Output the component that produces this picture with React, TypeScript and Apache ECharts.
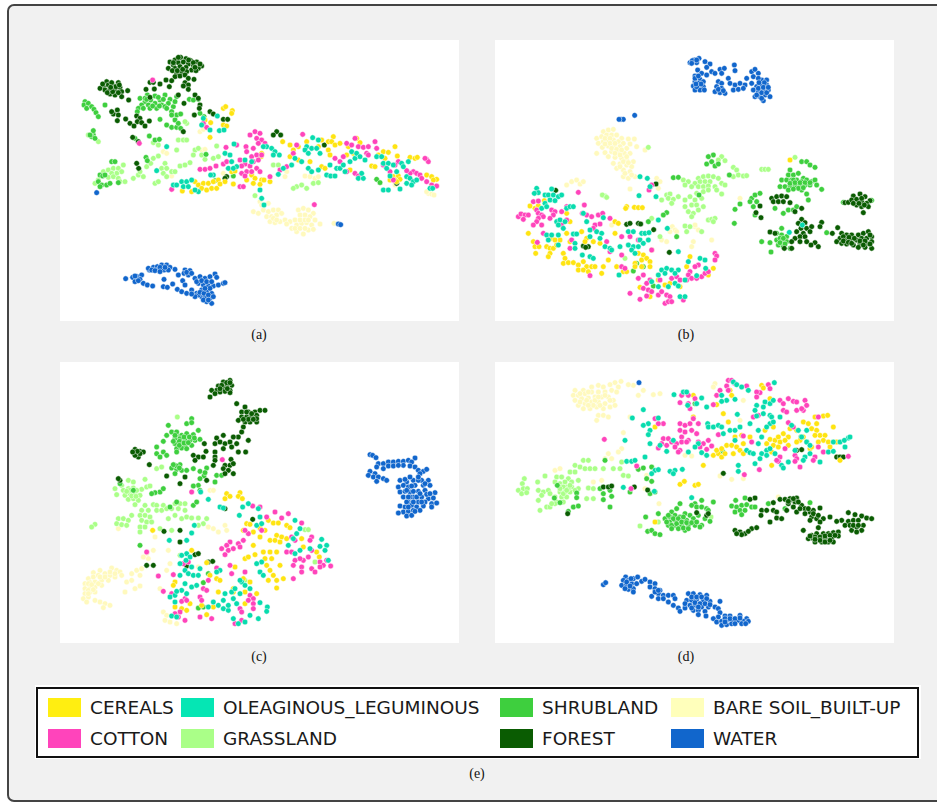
import React, { useEffect, useRef } from "react";
import * as echarts from "echarts";

const categories = ["CEREALS", "COTTON", "OLEAGINOUS_LEGUMINOUS", "GRASSLAND", "SHRUBLAND", "FOREST", "BARE SOIL_BUILT-UP", "WATER"];
const colors = ["#ffe411", "#ff44bb", "#08dcae", "#aaff88", "#3ecf3e", "#0a5c02", "#fff9bd", "#1166cc"];
const legendColors = ["#ffee11", "#ff44bb", "#05e6b4", "#aaff88", "#3ecf3e", "#0a5c02", "#ffffbb", "#1166cc"];
const captions = ["(a)", "(b)", "(c)", "(d)", "(e)"];

// Panel (a)
const aCereals = [[490,205],[497,200],[517,212],[515,220],[450,292],[490,255],[500,258],[452,248],[435,240],[405,425],[415,435],[430,430],[445,430],[460,425],[475,420],[425,445],[440,450],[455,445],[470,445],[395,455],[367,453],[480,432],[495,425],[520,432],[515,395],[525,393],[575,405],[585,415],[605,420],[600,433],[612,420],[580,430],[630,425],[603,350],[605,340],[668,305],[690,315],[700,330],[690,350],[715,360],[715,320],[740,305],[785,300],[805,305],[820,290],[815,305],[825,315],[840,310],[805,330],[810,345],[775,320],[750,365],[785,380],[795,385],[865,320],[860,345],[880,340],[890,295],[900,308],[870,390],[935,378],[945,380],[955,345],[970,335],[985,337],[1005,320],[1012,348],[975,355],[1050,352],[1065,355],[1072,352],[1000,410],[1015,408],[990,420],[1005,420],[1020,418],[1100,405],[1115,410],[1130,418],[1120,420],[560,420],[1010,425]];
const aCotton = [[570,285],[585,275],[600,280],[590,295],[605,300],[615,310],[595,310],[580,325],[558,320],[560,335],[575,350],[590,345],[605,345],[580,365],[595,360],[570,378],[555,372],[540,360],[545,378],[560,395],[545,400],[555,408],[575,395],[590,385],[600,395],[630,410],[530,315],[498,322],[490,372],[500,365],[420,388],[435,388],[450,385],[468,378],[728,283],[700,340],[710,315],[680,380],[660,390],[825,355],[840,365],[850,350],[860,310],[875,315],[885,295],[895,320],[910,322],[925,320],[945,305],[950,325],[920,340],[925,345],[1015,365],[1005,375],[990,395],[970,375],[1100,358],[1105,365],[1095,355],[1060,395],[1070,400],[1080,405],[1050,400],[1040,392],[1085,415],[1100,425],[1115,435],[1130,438],[885,400],[895,408],[1000,420],[860,395],[540,440],[550,440],[335,448],[763,494],[238,310],[278,120],[440,262],[430,250]];
const aOlea = [[340,435],[350,435],[365,425],[380,425],[395,420],[370,440],[385,440],[415,455],[405,450],[430,235],[450,270],[425,255],[478,272],[492,270],[472,228],[495,340],[522,312],[510,345],[515,365],[530,380],[505,385],[520,385],[555,360],[575,365],[620,320],[635,325],[645,335],[658,345],[640,345],[610,320],[600,450],[605,475],[612,495],[655,403],[670,385],[695,375],[705,355],[725,365],[740,320],[755,325],[770,325],[735,330],[745,340],[758,293],[775,300],[780,340],[745,385],[755,395],[775,390],[800,405],[812,408],[825,408],[810,375],[830,385],[840,385],[850,375],[855,395],[870,365],[885,355],[875,335],[890,340],[900,350],[915,360],[895,415],[910,415],[905,400],[950,350],[965,350],[970,370],[985,370],[1000,375],[980,385],[1025,370],[1030,380],[1045,365],[1010,395],[990,408],[1040,410],[1050,415],[1060,425],[1040,430],[1055,435],[1070,420],[970,450],[985,450],[1020,447],[1110,445],[1118,445],[460,405],[452,405],[290,392],[320,320]];
const aGrass = [[105,430],[115,420],[130,395],[145,390],[160,385],[175,385],[185,395],[170,400],[155,400],[145,412],[160,410],[175,415],[190,375],[180,425],[195,425],[220,415],[235,405],[250,410],[240,395],[260,380],[272,370],[280,355],[295,348],[315,370],[305,385],[320,385],[335,395],[345,395],[310,400],[320,410],[285,430],[295,425],[280,308],[295,315],[355,300],[370,300],[380,300],[350,330],[360,378],[375,375],[390,368],[405,330],[415,325],[400,345],[425,345],[435,358],[460,355],[475,350],[495,340],[470,318],[710,440],[725,435],[740,445],[700,445],[760,430],[775,428],[640,375],[655,375],[585,467],[380,250],[115,305],[85,285],[375,245]];
const aShrub = [[75,185],[72,195],[85,190],[80,205],[95,200],[102,208],[108,218],[115,230],[135,195],[240,175],[262,165],[285,168],[315,165],[350,170],[330,178],[300,180],[272,180],[255,185],[245,195],[265,195],[285,190],[305,195],[325,190],[340,200],[235,205],[270,205],[290,205],[315,200],[335,215],[350,225],[362,222],[335,225],[345,240],[300,238],[320,255],[335,262],[350,262],[362,265],[355,250],[232,215],[420,220],[432,230],[268,288],[285,300],[298,298],[225,295],[155,365],[165,365],[258,352],[262,362],[120,405],[128,408],[135,405],[115,425],[125,435],[140,435],[150,430],[120,440],[175,428],[100,285],[95,290],[105,295],[90,285],[100,272],[415,178],[388,178],[400,180],[438,343],[465,422],[520,408],[950,418],[960,428],[255,175],[295,172],[310,178],[345,185],[278,198],[298,198],[320,205],[250,205],[260,178]];
const aForest = [[330,66],[345,60],[362,52],[378,56],[392,62],[410,66],[425,78],[340,75],[355,68],[370,66],[385,72],[400,76],[415,85],[325,85],[345,85],[360,80],[378,82],[395,90],[408,92],[350,100],[365,95],[380,95],[345,110],[360,108],[375,105],[385,115],[402,118],[335,122],[318,120],[375,128],[385,135],[370,138],[385,148],[300,132],[140,125],[130,140],[145,135],[160,138],[175,128],[120,145],[135,150],[150,148],[165,150],[180,142],[185,155],[150,162],[165,165],[185,170],[203,152],[206,180],[172,210],[160,222],[175,225],[172,242],[155,215],[197,237],[210,250],[230,228],[240,235],[232,245],[245,248],[255,258],[268,243],[222,258],[258,148],[270,172],[283,147],[270,127],[280,127],[328,140],[355,165],[372,190],[405,165],[415,175],[420,195],[418,205],[403,225],[450,215],[460,222],[490,238],[503,238],[370,275],[235,305],[236,385],[218,292],[230,370],[500,410],[495,415],[650,275],[640,285],[662,285],[793,315],[1010,430],[337,92],[352,92],[368,88],[386,60],[400,68],[355,52],[340,68],[420,72],[405,82],[128,132],[155,128],[168,140],[142,158],[158,155],[175,158],[178,135],[152,142]];
const aBare = [[600,485],[605,495],[625,490],[580,515],[595,520],[610,510],[625,515],[640,510],[655,510],[620,530],[635,530],[650,525],[665,520],[630,545],[645,548],[660,545],[675,540],[690,545],[705,540],[715,510],[730,505],[745,510],[760,520],[720,525],[735,525],[750,530],[765,540],[710,555],[725,550],[740,548],[755,555],[780,552],[695,565],[710,575],[730,582],[745,570],[760,568],[822,550],[1105,460],[1115,462],[1122,465],[1100,455],[420,275],[430,268],[425,330],[435,328],[310,335],[320,340],[335,408],[490,400],[680,395],[675,410],[735,408],[750,410],[765,415],[775,410],[1005,435],[640,535],[680,552],[720,540],[735,540],[705,565],[720,565],[735,565],[650,540],[745,540]];
const aWater = [[197,716],[218,712],[225,725],[232,710],[245,705],[240,718],[250,730],[262,735],[278,738],[268,690],[280,682],[292,680],[305,675],[320,675],[330,682],[345,688],[265,685],[295,690],[312,690],[325,690],[375,690],[390,692],[372,700],[385,705],[310,740],[322,742],[355,705],[312,718],[338,732],[352,748],[368,722],[375,735],[365,755],[380,760],[395,750],[410,760],[425,770],[440,785],[455,790],[405,715],[420,710],[435,715],[450,710],[465,702],[470,712],[415,730],[430,735],[445,738],[460,738],[475,735],[490,730],[495,728],[425,750],[440,755],[455,760],[415,765],[435,770],[450,775],[110,458],[835,552],[842,554],[225,708],[235,722],[275,690],[285,692],[300,682],[315,682],[300,695],[380,697],[395,700],[410,725],[425,722],[440,725],[455,725],[405,770],[420,757],[432,760],[445,765],[430,780],[445,780],[460,770],[450,745],[435,745],[395,762]];

// Panel (b)
const bCereals = [[100,580],[105,498],[120,505],[130,497],[148,482],[215,520],[395,500],[418,502],[430,503],[442,503],[392,505],[225,545],[215,580],[195,600],[170,595],[180,600],[155,620],[165,625],[175,625],[185,615],[165,640],[160,650],[205,640],[210,655],[205,670],[220,668],[235,668],[250,675],[265,665],[275,680],[290,680],[300,680],[250,690],[265,690],[280,695],[320,700],[325,680],[340,660],[115,605],[120,620],[132,620],[122,640],[225,605],[260,575],[275,595],[295,605],[315,610],[360,545],[370,550],[360,580],[365,680],[385,695],[395,695],[430,640],[445,645],[470,630],[440,660],[455,655],[465,665],[420,670],[420,680],[440,680],[465,680],[490,720],[510,735],[525,730],[435,742],[465,770],[555,740],[585,650],[575,680],[655,685],[885,360],[640,705],[270,605]];
const bCotton = [[70,530],[78,522],[90,525],[100,525],[85,538],[115,485],[130,483],[125,510],[130,520],[140,525],[145,530],[130,535],[125,545],[115,555],[140,555],[170,510],[180,515],[175,525],[165,535],[200,515],[215,500],[250,457],[268,495],[262,520],[275,525],[290,530],[310,525],[323,520],[345,535],[300,555],[315,552],[295,565],[190,545],[215,540],[200,555],[145,580],[127,607],[230,600],[225,625],[380,590],[405,590],[335,605],[345,635],[380,645],[430,600],[465,440],[470,435],[462,450],[470,630],[660,640],[665,648],[660,660],[610,675],[600,680],[585,695],[580,705],[575,720],[590,715],[605,715],[620,710],[630,700],[640,695],[530,715],[545,710],[555,720],[430,715],[445,705],[465,720],[455,730],[445,745],[460,750],[435,778],[405,760],[455,768],[470,755],[490,765],[500,755],[515,765],[525,770],[510,790],[520,785],[530,785],[495,720],[565,780],[285,707],[380,680],[390,685]];
const bOlea = [[125,445],[130,458],[118,460],[150,465],[170,447],[160,465],[175,465],[190,470],[200,465],[165,480],[180,482],[150,490],[140,505],[155,500],[215,505],[225,500],[235,500],[185,545],[195,540],[210,545],[190,555],[205,565],[155,585],[170,585],[190,585],[160,600],[190,615],[235,582],[245,582],[240,610],[262,645],[240,625],[265,520],[275,545],[325,533],[285,570],[305,575],[320,580],[315,595],[285,590],[285,650],[295,655],[330,620],[345,625],[350,630],[375,620],[400,575],[415,575],[440,580],[450,580],[462,578],[400,615],[415,620],[430,620],[410,630],[420,640],[435,600],[445,610],[460,600],[435,410],[457,415],[432,467],[465,440],[483,470],[490,540],[517,565],[500,690],[515,685],[490,705],[510,700],[530,690],[550,690],[540,700],[550,635],[580,665],[615,655],[630,660],[490,740],[520,740],[540,730],[550,738],[570,720],[555,770],[570,770],[372,705],[605,707],[632,685],[883,577],[922,555],[470,725]];
const bGrass = [[680,350],[670,360],[690,362],[715,382],[725,390],[715,410],[730,405],[745,408],[755,407],[800,388],[810,388],[820,388],[900,352],[460,322],[565,420],[580,425],[610,415],[625,410],[640,408],[655,410],[670,415],[600,430],[615,425],[630,425],[645,425],[570,435],[590,440],[610,440],[625,440],[640,438],[680,430],[690,435],[660,440],[515,465],[525,462],[500,480],[520,475],[535,478],[550,470],[530,490],[605,460],[625,455],[640,450],[680,462],[665,450],[570,480],[585,470],[600,480],[620,475],[570,500],[590,495],[605,495],[625,500],[580,515],[595,520],[610,510],[590,530],[640,540],[650,538],[660,535],[655,545],[570,558],[585,560],[575,575],[620,575],[330,468],[322,465],[335,472],[470,535],[495,590],[390,655]];
const bShrub = [[655,345],[640,350],[635,372],[650,365],[660,378],[670,372],[703,405],[535,413],[550,412],[545,590],[770,475],[780,465],[795,460],[765,485],[785,485],[720,508],[735,492],[718,550],[775,500],[780,525],[920,365],[935,365],[945,375],[960,382],[885,390],[880,405],[895,405],[910,400],[925,415],[860,420],[875,420],[890,420],[905,420],[920,425],[935,420],[950,425],[960,420],[855,440],[870,440],[885,437],[900,435],[915,435],[930,435],[945,435],[965,435],[980,448],[880,450],[920,450],[935,462],[840,505],[865,520],[880,510],[895,510],[905,500],[940,480],[800,605],[825,608],[828,636],[860,565],[845,580],[860,585],[875,590],[845,600],[860,605],[875,605],[850,615],[865,620],[885,625],[995,578],[1045,487],[1130,481],[612,465],[515,518],[505,525],[460,545],[445,680],[415,693],[475,738],[425,670],[895,420],[885,430],[900,428],[915,428],[930,428],[945,428],[910,445],[895,447],[925,443],[855,595],[865,595],[855,608],[870,612]];
const bForest = [[182,451],[483,432],[830,475],[845,470],[860,468],[875,470],[835,485],[850,485],[865,485],[885,488],[795,498],[783,518],[798,533],[920,505],[900,515],[1050,488],[1060,487],[1075,468],[1095,462],[1110,470],[1125,482],[1070,480],[1085,478],[1100,485],[1115,490],[1085,495],[1100,500],[1120,500],[1105,518],[1028,563],[1012,580],[920,538],[930,548],[910,550],[918,565],[935,565],[950,560],[980,547],[975,560],[825,576],[840,580],[905,575],[925,580],[945,575],[900,595],[915,590],[930,590],[890,605],[915,605],[935,605],[960,608],[970,620],[868,625],[890,625],[948,615],[1040,580],[1055,585],[1070,585],[1090,585],[1105,580],[1120,575],[1130,590],[1035,595],[1050,600],[1065,600],[1085,600],[1100,595],[1115,595],[1025,605],[1040,610],[1055,612],[1075,615],[1095,612],[1115,610],[1130,605],[1090,622],[1110,622],[1130,625],[395,553],[405,550],[430,550],[437,552],[265,618],[280,620],[272,622],[476,569],[523,637],[1075,490],[1092,490],[1108,495],[1100,475],[1045,590],[1062,592],[1078,595],[1095,603],[1110,603],[1125,585],[1125,612],[1045,603],[1060,607],[1070,610],[1105,615]];
const bBare = [[325,275],[340,270],[355,268],[305,295],[320,290],[335,285],[350,285],[365,285],[380,295],[400,297],[418,297],[310,310],[325,305],[340,300],[355,300],[370,305],[385,310],[405,312],[322,322],[340,318],[358,318],[375,320],[395,325],[425,320],[305,340],[330,338],[350,335],[370,335],[388,340],[405,340],[340,350],[360,352],[380,355],[395,360],[415,365],[355,370],[375,372],[395,375],[410,380],[365,385],[385,390],[405,395],[385,410],[400,415],[420,410],[405,447],[215,435],[230,425],[245,420],[255,432],[265,425],[485,415],[495,425],[490,445],[532,560],[540,570],[525,575],[545,575],[600,560],[610,570],[595,605],[590,620],[650,600],[735,475],[500,600],[515,605],[350,555],[600,555],[450,330],[330,295],[345,295],[345,310],[360,310],[330,312],[350,325],[365,328],[380,330],[360,340],[375,345],[395,350],[385,365],[400,368],[375,380],[390,400],[410,405]];
const bWater = [[585,68],[598,60],[612,55],[605,68],[630,65],[645,72],[635,82],[650,95],[660,100],[608,90],[620,100],[635,105],[600,108],[615,118],[600,125],[610,130],[625,125],[595,138],[610,140],[625,140],[600,150],[615,150],[628,150],[675,88],[688,85],[680,100],[718,75],[720,92],[700,115],[670,125],[680,130],[705,130],[665,140],[680,145],[660,155],[675,158],[690,160],[720,135],[735,130],[750,135],[715,150],[730,148],[745,145],[755,115],[770,95],[780,88],[790,100],[775,110],[770,130],[785,140],[800,120],[815,120],[800,135],[815,135],[775,150],[790,155],[805,150],[820,150],[780,170],[795,170],[810,165],[825,170],[805,182],[378,238],[385,238],[372,238],[419,226],[592,62],[605,60],[590,70],[600,115],[610,108],[605,140],[618,132],[603,132],[790,115],[808,128],[792,128],[785,165],[800,158],[815,158],[790,145],[805,142],[820,142],[670,148],[685,152],[800,175]];

// Panel (c)
const cCereals = [[500,395],[495,410],[510,403],[540,392],[535,403],[547,410],[560,485],[570,487],[550,505],[580,510],[600,525],[625,475],[640,483],[655,483],[680,490],[690,497],[650,520],[665,525],[630,535],[645,535],[660,540],[680,530],[725,530],[730,555],[555,590],[565,585],[585,578],[610,570],[630,570],[650,570],[615,590],[635,590],[660,610],[620,610],[630,625],[640,640],[625,655],[650,655],[670,650],[650,678],[770,570],[778,585],[278,505],[395,565],[440,602],[470,650],[480,655],[525,615],[345,660],[340,670],[345,735],[365,740],[390,725],[380,745],[425,730],[460,735],[440,758],[520,680],[550,650],[570,660],[555,725],[590,695],[555,690],[520,690],[475,690],[450,640],[600,498],[615,505],[580,550]];
const cCotton = [[487,293],[395,390],[578,432],[600,435],[620,465],[645,450],[665,468],[685,455],[725,483],[510,540],[500,550],[535,545],[550,535],[485,560],[505,565],[520,560],[495,578],[540,555],[565,515],[555,505],[605,505],[695,525],[705,535],[755,525],[750,535],[755,565],[745,585],[730,595],[720,590],[680,570],[695,570],[705,595],[700,610],[725,615],[725,630],[700,650],[755,620],[765,630],[780,600],[790,610],[780,615],[812,612],[800,595],[260,570],[295,642],[340,638],[310,688],[370,605],[385,600],[335,695],[375,710],[365,718],[380,715],[420,705],[425,715],[430,680],[440,685],[470,618],[510,610],[515,635],[555,630],[570,700],[580,710],[565,715],[580,725],[580,740],[540,740],[545,750],[360,750],[345,755],[355,765],[375,775],[420,765],[455,770],[525,785],[545,775],[445,655]];
const cOlea = [[422,390],[445,412],[480,435],[490,438],[403,490],[395,513],[328,535],[380,535],[538,460],[548,435],[565,425],[595,440],[600,465],[590,490],[605,485],[705,475],[720,500],[710,515],[700,530],[685,550],[720,565],[705,575],[750,560],[785,532],[780,553],[800,550],[795,565],[805,595],[605,600],[590,605],[600,630],[610,640],[380,575],[390,585],[365,580],[378,595],[360,605],[375,625],[395,615],[385,635],[400,640],[415,640],[420,620],[395,675],[410,670],[360,640],[375,665],[365,685],[380,695],[345,700],[330,705],[345,720],[350,688],[480,625],[470,630],[495,695],[490,715],[475,730],[490,740],[505,745],[520,710],[530,725],[505,730],[515,690],[525,680],[540,695],[545,660],[540,655],[555,670],[570,680],[600,722],[622,735],[620,748],[570,760],[595,770],[520,770],[535,785],[555,780],[445,735],[335,762],[350,765],[460,720]];
const cGrass = [[352,165],[290,320],[305,315],[165,380],[185,370],[205,355],[220,360],[255,352],[170,398],[190,385],[205,380],[220,378],[245,382],[260,375],[270,372],[195,400],[210,395],[225,395],[240,400],[205,412],[220,410],[235,415],[225,428],[255,430],[280,428],[290,430],[310,430],[345,425],[360,425],[375,425],[245,445],[265,445],[290,445],[305,445],[320,440],[335,440],[355,440],[375,445],[240,460],[255,460],[270,465],[215,460],[175,470],[190,470],[205,475],[170,485],[185,488],[200,490],[245,475],[260,480],[275,480],[240,495],[255,495],[240,510],[345,460],[365,470],[380,465],[395,468],[415,468],[440,470],[430,485],[415,490],[105,487],[95,495],[335,505],[300,500],[360,580],[555,655],[765,600],[735,503],[745,503],[325,470],[210,385],[215,402],[228,403],[200,388],[230,385]];
const cShrub = [[395,170],[380,185],[325,190],[395,182],[320,220],[335,210],[350,220],[365,220],[380,215],[400,218],[415,205],[345,230],[360,230],[375,235],[390,235],[405,235],[420,232],[310,238],[345,245],[360,245],[375,250],[395,250],[350,260],[365,258],[380,260],[290,255],[290,275],[310,270],[320,280],[300,285],[350,270],[345,310],[360,308],[335,318],[350,322],[365,325],[345,335],[380,325],[400,320],[420,328],[440,318],[432,342],[420,350],[435,332],[470,340],[485,340],[415,370],[400,372],[420,385],[300,390],[285,392],[310,380],[220,385],[330,435],[350,420],[400,430],[410,420],[240,550],[430,662],[445,635],[430,735],[415,738],[275,395],[465,360],[180,365],[350,210],[345,220],[358,238],[372,225],[388,225],[403,228],[358,250],[372,243],[385,242],[340,238],[350,312],[358,318],[340,308]];
const cForest = [[510,55],[490,60],[475,72],[515,70],[500,72],[490,80],[470,85],[455,85],[510,85],[495,88],[480,90],[465,95],[450,105],[510,92],[530,125],[555,135],[545,150],[565,150],[585,150],[600,145],[615,145],[545,165],[560,165],[575,165],[590,160],[535,175],[555,180],[570,180],[590,180],[550,195],[545,210],[535,225],[520,225],[565,235],[470,228],[490,220],[465,245],[480,240],[495,245],[510,240],[530,245],[515,255],[490,260],[535,270],[557,270],[465,270],[225,262],[240,268],[230,275],[250,270],[235,285],[225,280],[465,285],[513,292],[400,280],[415,285],[405,295],[438,268],[430,285],[268,308],[320,342],[375,345],[440,355],[495,310],[510,310],[520,305],[490,320],[505,325],[495,335],[520,335],[465,295],[460,310],[180,355],[175,350],[495,440],[578,472],[312,508],[360,540],[360,505],[405,578],[415,575],[445,600],[458,598],[260,610],[280,610],[380,612],[433,245],[360,365],[500,62],[510,62],[485,70],[502,80],[480,80],[560,150],[575,155],[590,170],[565,172],[550,172],[580,172],[240,275],[232,268],[218,270]];
const cBare = [[100,632],[120,625],[155,618],[170,625],[180,630],[85,650],[100,645],[115,640],[135,635],[150,640],[75,665],[90,662],[105,660],[125,655],[145,655],[165,645],[185,640],[75,680],[90,675],[105,675],[125,670],[75,695],[90,690],[105,690],[70,710],[85,705],[80,720],[105,715],[120,720],[135,725],[130,737],[150,730],[200,660],[215,655],[215,635],[230,625],[245,620],[240,640],[225,680],[240,672],[195,690],[300,680],[320,625],[330,605],[325,565],[260,575],[280,565],[265,590],[250,585],[445,495],[460,500],[475,510],[495,490],[500,505],[310,750],[320,760],[315,775],[330,780],[350,785],[175,500],[285,525],[415,615],[450,385],[460,385],[85,665],[95,668],[115,665],[85,685],[100,683],[85,695],[120,645],[135,645],[150,630],[165,635]];
const cWater = [[930,278],[938,280],[948,287],[955,305],[950,315],[970,305],[985,300],[1000,300],[1015,298],[1030,298],[1045,295],[1065,288],[1055,300],[970,320],[985,312],[1030,310],[1050,312],[1065,315],[1075,325],[1090,328],[1100,322],[1080,335],[930,328],[945,335],[925,340],[940,345],[955,345],[970,350],[980,355],[950,358],[1020,355],[1040,360],[1060,355],[1085,355],[1105,355],[1015,375],[1030,370],[1045,375],[1065,370],[1090,370],[1110,370],[1020,390],[1035,388],[1050,390],[1075,388],[1095,385],[1125,392],[1030,405],[1060,405],[1085,405],[1105,410],[1120,408],[1045,420],[1075,420],[1095,420],[1115,425],[1130,423],[1020,432],[1035,435],[1055,430],[1070,435],[1090,432],[1115,435],[1030,450],[1045,448],[1060,445],[1080,445],[1015,453],[1040,462],[1055,460],[1040,385],[1060,388],[1050,405],[1070,405],[1040,420],[1060,420],[1085,420],[1045,435],[1065,448],[1080,395],[1100,397],[1110,395],[1055,372],[1075,355],[1095,365],[1000,312],[1015,310],[1035,352],[1050,345],[1075,345],[1045,405]];

// Panel (d)
const dCereals = [[800,70],[805,78],[665,128],[595,100],[705,85],[710,100],[685,155],[700,180],[480,195],[625,310],[555,367],[568,358],[600,370],[610,367],[480,480],[655,280],[670,275],[680,285],[690,275],[665,265],[680,260],[695,250],[710,250],[725,255],[735,265],[715,275],[745,245],[765,225],[740,220],[720,225],[745,275],[825,110],[825,232],[840,235],[815,245],[835,250],[850,225],[865,215],[880,225],[855,240],[870,235],[880,250],[850,255],[885,200],[905,205],[925,180],[940,185],[960,165],[985,162],[998,160],[915,235],[905,240],[925,225],[965,185],[950,200],[965,205],[975,220],[990,220],[960,220],[985,235],[970,240],[1000,240],[1015,195],[1025,240],[1005,255],[945,260],[950,255],[830,270],[835,195],[830,310],[810,205],[1035,295],[595,165]];
const dCotton = [[700,55],[710,55],[695,72],[700,85],[755,72],[795,92],[785,90],[785,105],[820,68],[825,80],[560,100],[580,100],[555,122],[580,125],[585,140],[600,110],[655,128],[665,100],[720,65],[855,115],[865,125],[865,145],[875,150],[880,110],[895,118],[905,120],[930,115],[935,130],[925,145],[905,145],[920,140],[775,165],[790,160],[480,170],[505,185],[490,185],[555,185],[570,190],[585,185],[595,170],[610,185],[555,205],[570,210],[590,205],[605,215],[560,225],[580,235],[505,230],[520,230],[530,240],[545,245],[560,240],[575,240],[500,245],[515,250],[540,255],[555,265],[550,270],[490,258],[610,240],[625,245],[640,235],[615,255],[650,252],[635,262],[328,232],[425,312],[408,380],[745,222],[770,240],[970,165],[880,182],[895,195],[970,255],[985,270],[1060,283],[855,285],[850,298],[845,295],[870,260],[900,280],[905,290],[900,298],[960,285],[955,295],[793,323],[748,338],[915,315],[675,85],[670,218]];
const dOlea = [[715,60],[725,68],[740,75],[760,85],[838,62],[537,98],[565,90],[575,90],[620,108],[605,125],[578,130],[635,135],[680,100],[695,115],[720,112],[680,118],[785,130],[810,120],[825,125],[835,115],[805,135],[780,145],[805,155],[825,160],[785,162],[830,165],[855,165],[727,157],[445,143],[412,168],[460,185],[490,168],[445,190],[465,205],[460,218],[465,245],[495,250],[515,268],[535,235],[390,235],[610,245],[638,185],[640,195],[655,195],[670,190],[680,195],[685,215],[705,205],[720,205],[735,195],[765,185],[720,235],[755,265],[765,272],[775,275],[800,225],[790,245],[825,185],[835,180],[815,195],[790,205],[815,265],[825,260],[800,275],[815,280],[795,290],[840,275],[780,305],[860,310],[865,318],[880,300],[900,265],[890,190],[910,205],[935,205],[920,225],[935,240],[945,250],[930,285],[925,295],[945,275],[975,300],[1000,270],[1015,240],[1035,240],[1050,255],[1060,228],[1065,225],[1048,235],[1015,268],[730,310],[730,328],[395,298],[410,298],[420,295],[480,325],[490,323],[470,335],[525,328],[540,325],[535,335],[562,322],[385,376],[478,388],[590,407],[580,270],[620,272],[600,255],[450,285],[635,280]];
const dGrass = [[88,350],[82,365],[70,385],[85,380],[97,380],[80,395],[95,392],[128,360],[150,342],[130,385],[145,390],[160,385],[140,400],[130,415],[155,435],[165,435],[135,445],[240,310],[265,295],[280,295],[255,315],[270,320],[225,330],[240,330],[185,345],[200,345],[220,350],[180,360],[195,365],[210,360],[230,360],[250,355],[285,320],[300,320],[325,320],[200,375],[215,375],[230,375],[250,380],[280,378],[295,380],[195,390],[210,390],[225,390],[180,405],[200,405],[215,405],[240,385],[275,410],[295,410],[205,420],[185,420],[355,320],[375,320],[385,340],[400,342],[165,395],[648,465],[490,480],[180,425],[170,425],[435,492],[380,300],[205,375],[220,380],[205,395],[215,385],[225,370],[195,380]];
const dShrub = [[330,295],[315,380],[325,395],[345,385],[350,403],[325,413],[345,435],[245,393],[245,407],[235,435],[250,432],[220,448],[195,422],[178,408],[187,370],[405,390],[470,358],[465,395],[480,390],[455,350],[430,322],[445,318],[470,315],[655,420],[620,415],[600,425],[590,430],[555,425],[545,440],[530,450],[605,435],[620,435],[635,440],[525,465],[540,460],[555,465],[570,455],[585,460],[510,470],[525,480],[540,475],[555,478],[575,475],[595,470],[610,460],[630,470],[640,445],[520,490],[540,490],[560,490],[580,490],[600,490],[620,490],[645,478],[570,505],[615,495],[452,465],[490,455],[458,508],[470,505],[480,515],[495,518],[722,415],[750,408],[710,432],[725,435],[740,430],[755,428],[770,435],[780,435],[720,450],[735,445],[750,445],[740,458],[945,422],[870,440],[820,425],[600,125],[683,268],[918,225],[935,240],[520,460],[535,470],[550,470],[565,465],[515,480],[530,490],[545,485],[560,480],[575,482],[590,482],[605,480],[550,500],[530,500],[565,498],[580,500]];
const dForest = [[780,408],[765,412],[855,412],[870,412],[885,415],[905,408],[900,420],[880,425],[835,422],[920,430],[895,435],[875,445],[905,450],[930,440],[945,450],[955,445],[975,438],[800,445],[815,445],[835,445],[845,450],[798,460],[845,468],[825,480],[860,470],[930,455],[950,465],[965,470],[985,470],[1005,465],[975,480],[945,475],[970,497],[925,505],[1060,452],[1080,458],[1100,462],[1115,468],[1130,470],[1040,475],[1060,478],[1075,475],[1090,475],[1105,490],[1025,478],[1050,490],[1065,490],[1085,495],[1100,505],[1070,505],[1085,510],[720,505],[735,510],[750,515],[770,500],[785,497],[740,518],[760,508],[725,515],[950,520],[965,515],[985,515],[1000,515],[1015,512],[1030,510],[940,530],[955,530],[970,530],[990,530],[1010,528],[1030,522],[960,540],[980,540],[1000,540],[1015,540],[325,375],[340,375],[350,372],[418,375],[458,384],[605,452],[635,460],[905,265],[920,263],[1025,285],[1035,285],[1045,285],[685,334],[218,455],[640,455],[960,525],[975,525],[990,522],[1005,520],[1020,520],[945,522],[975,535],[990,540],[1005,535],[960,532],[915,440],[885,410],[880,418],[895,410],[910,420],[940,440],[955,455],[970,460],[1075,490],[1090,490]];
const dBare = [[378,58],[360,62],[345,68],[310,70],[290,75],[265,85],[240,85],[415,70],[400,68],[445,85],[325,75],[370,75],[235,100],[250,100],[270,95],[290,90],[310,90],[330,90],[350,85],[365,90],[240,115],[260,110],[280,108],[300,105],[320,105],[340,105],[355,115],[250,130],[270,125],[290,120],[310,120],[330,125],[345,135],[360,130],[265,140],[285,140],[305,135],[325,140],[310,160],[325,160],[340,165],[305,175],[430,100],[475,98],[495,95],[405,165],[385,212],[380,260],[370,270],[340,275],[330,290],[350,290],[180,325],[195,320],[295,360],[320,355],[455,340],[660,65],[655,75],[570,280],[590,282],[745,115],[675,342],[710,352],[745,350],[735,175],[850,405],[492,425],[450,380],[255,95],[280,90],[300,115],[310,105],[255,120],[275,115],[295,130],[315,130],[330,100],[345,115],[280,130]];
const dWater = [[432,62],[325,668],[332,662],[392,645],[385,655],[400,655],[415,650],[428,645],[380,670],[395,668],[410,665],[425,665],[400,682],[415,680],[415,690],[440,658],[450,652],[465,660],[480,665],[465,675],[480,680],[495,685],[470,703],[490,695],[505,700],[520,700],[490,710],[505,710],[535,700],[520,720],[540,710],[535,730],[550,738],[555,748],[570,738],[580,695],[595,695],[615,698],[635,700],[575,715],[590,715],[605,712],[625,715],[645,718],[675,718],[570,725],[585,730],[600,730],[620,735],[640,735],[660,735],[595,745],[610,745],[630,748],[670,740],[675,752],[610,758],[633,762],[670,765],[655,770],[690,762],[705,762],[735,760],[755,770],[665,780],[680,778],[695,775],[710,775],[730,775],[745,778],[760,778],[680,790],[695,788],[710,785],[740,785],[752,785],[395,660],[405,672],[480,690],[490,685],[590,705],[605,705],[620,705],[635,710],[600,722],[615,725],[630,725],[645,728],[610,735],[590,738],[690,770],[705,770],[720,770],[690,780],[720,785],[735,768],[408,650],[390,680]];

const panelData = [
  [aBare, aWater, aGrass, aShrub, aForest, aCereals, aCotton, aOlea],
  [bBare, bWater, bGrass, bShrub, bForest, bCereals, bCotton, bOlea],
  [cBare, cWater, cGrass, cShrub, cForest, cCereals, cCotton, cOlea],
  [dBare, dWater, dGrass, dShrub, dForest, dCereals, dCotton, dOlea],
];
const panelClass = [6, 7, 3, 4, 5, 0, 1, 2];
const panelBoxes = [[60, 40], [495, 40], [60, 362], [495, 362]];
const captionBoxes = [[259, 334], [686, 334], [259, 656], [686, 656], [477, 773]];
const legendColumns = [
  { left: 48, names: [0, 1] },
  { left: 181, names: [2, 3] },
  { left: 500, names: [4, 5] },
  { left: 671, names: [6, 7] },
];

export default function App() {
  const ref = useRef<HTMLDivElement>(null);
  useEffect(() => {
    document.body.style.margin = "0";
    const chart = echarts.init(ref.current!, undefined, { renderer: "svg" });
    const series: any[] = [];
    panelData.forEach((lists, p) => {
      lists.forEach((points, i) => {
        const k = panelClass[i];
        series.push({
          type: "scatter",
          name: categories[k],
          xAxisIndex: p,
          yAxisIndex: p,
          data: points,
          symbolSize: 5.6,
          silent: true,
          itemStyle: { color: colors[k], borderColor: "#ffffff", borderWidth: 0.5, opacity: 1 },
        });
      });
    });
    chart.setOption({
      animation: false,
      backgroundColor: "#ffffff",
      tooltip: { show: false },
      grid: panelBoxes.map(([left, top]) => ({
        left, top, width: 399, height: 281, show: true,
        backgroundColor: "#ffffff", borderWidth: 0, containLabel: false,
      })),
      xAxis: panelBoxes.map((_, i) => ({ type: "value", gridIndex: i, min: 0, max: 1197, show: false })),
      yAxis: panelBoxes.map((_, i) => ({ type: "value", gridIndex: i, min: 0, max: 843, inverse: true, show: false })),
      color: legendColors,
      legend: legendColumns.map((c) => ({
        left: c.left,
        top: 698,
        orient: "vertical",
        padding: 0,
        itemWidth: 33,
        itemHeight: 19,
        itemGap: 12,
        selectedMode: false,
        icon: "rect",
        data: c.names.map((k) => ({
          name: categories[k],
          icon: "rect",
          itemStyle: { color: legendColors[k], borderWidth: 0 },
        })),
        textStyle: {
          color: "#1a1a1a",
          fontFamily: "DejaVu Sans",
          fontSize: 18.5,
          padding: [0, 0, 0, 4],
        },
      })),
      graphic: [
        { type: "rect", z: -10, shape: { x: 8, y: 5, width: 960, height: 796, r: 6 }, style: { fill: "#f1f1f1", stroke: "#444444", lineWidth: 2 } },
        { type: "rect", z: -9, shape: { x: 35, y: 685, width: 886, height: 74 }, style: { fill: "#ffffff" } },
        { type: "rect", z: -8, shape: { x: 37, y: 688, width: 881, height: 69 }, style: { fill: "#ffffff", stroke: "#111111", lineWidth: 2 } },
        ...captions.map((text, i) => ({
          type: "text",
          x: captionBoxes[i][0],
          y: captionBoxes[i][1],
          style: { text, fill: "#111111", font: "14px 'Liberation Serif'", textAlign: "center", textVerticalAlign: "middle" },
        })),
      ],
      series,
    });
    return () => chart.dispose();
  }, []);
  return <div ref={ref} style={{ width: 937, height: 802 }} />;
}
